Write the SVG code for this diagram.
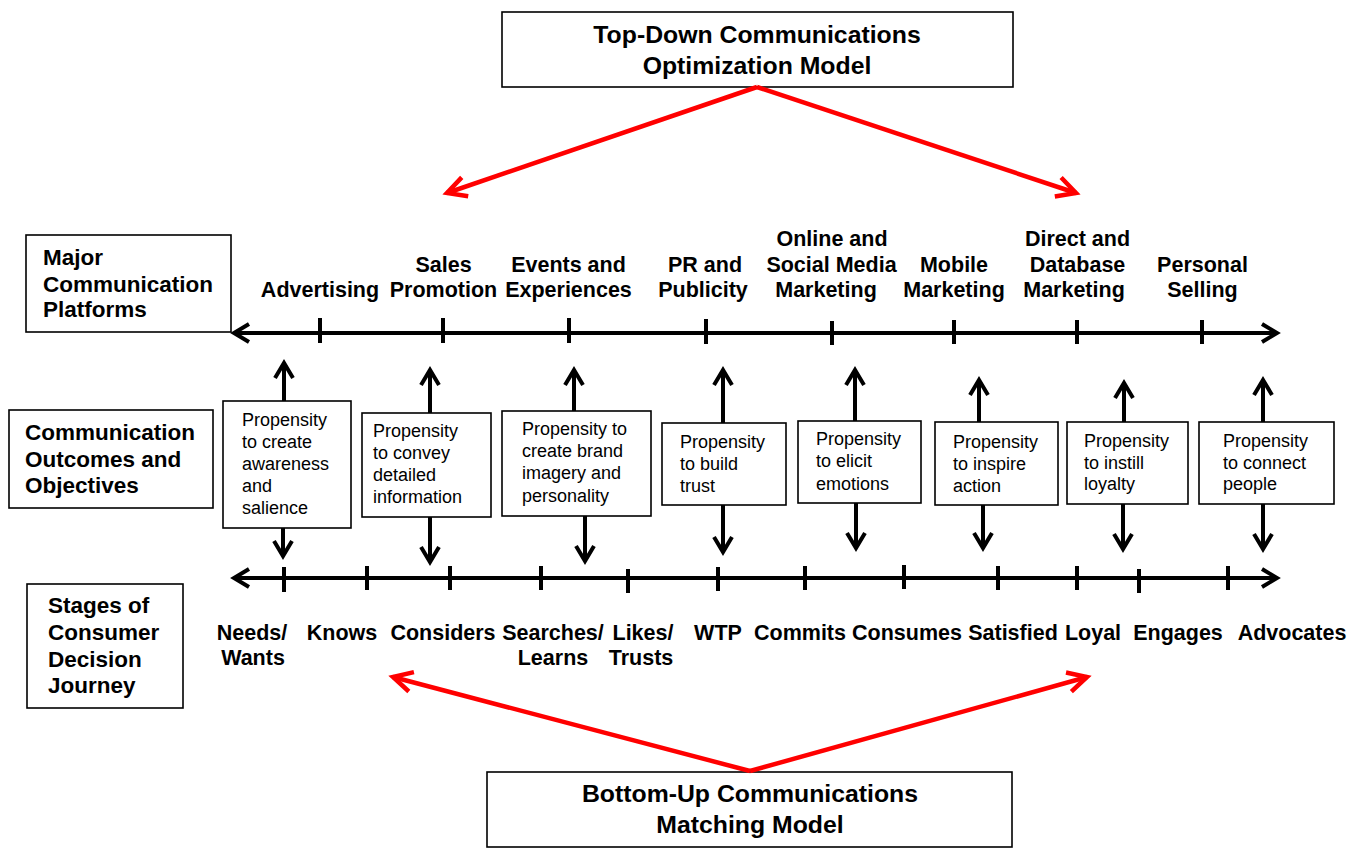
<svg xmlns="http://www.w3.org/2000/svg" width="1347" height="862" viewBox="0 0 1347 862">
<style>
.bx{fill:#fff;stroke:#000;stroke-width:1.6}
.b{font-family:"Liberation Sans",Arial,sans-serif;font-weight:bold;fill:#000}
.ax{font-size:21.5px;text-anchor:middle}
.lb{font-size:22.5px}
.tt{font-size:24.8px;text-anchor:middle}
.r{font-family:"Liberation Sans",Arial,sans-serif;font-size:18px;fill:#000}
.ln{stroke:#000;stroke-width:4;fill:none}
.tk{stroke:#000;stroke-width:4}
.rd{stroke:#ff0000;stroke-width:4.5;fill:none}
</style>
<defs>
<marker id="ah" markerUnits="userSpaceOnUse" viewBox="-20 -12 24 24" markerWidth="24" markerHeight="24" refX="0" refY="0" orient="auto-start-reverse" overflow="visible">
<path d="M-15,-9 L0,0 L-15,9" fill="none" stroke="#000" stroke-width="4"/>
</marker>
<marker id="rh" markerUnits="userSpaceOnUse" viewBox="-22 -12 26 24" markerWidth="26" markerHeight="24" refX="0" refY="0" orient="auto" overflow="visible">
<path d="M-19,-10 L0,0 L-19,10" fill="none" stroke="#ff0000" stroke-width="4.5"/>
</marker>
</defs>
<rect width="1347" height="862" fill="#fff"/>

<g id="top-model">
<rect class="bx" x="502" y="12" width="511" height="75"/>
<text class="b tt" x="757" y="43">Top-Down Communications</text>
<text class="b tt" x="757" y="74">Optimization Model</text>
</g>
<g id="bottom-model">
<rect class="bx" x="487" y="772" width="525" height="75"/>
<text class="b tt" x="750" y="802">Bottom-Up Communications</text>
<text class="b tt" x="750" y="833">Matching Model</text>
</g>

<g id="label-platforms">
<rect class="bx" x="26" y="235" width="205" height="97"/>
<text class="b lb" x="43" y="265">Major</text>
<text class="b lb" x="43" y="292">Communication</text>
<text class="b lb" x="43" y="317">Platforms</text>
</g>
<g id="label-outcomes">
<rect class="bx" x="9" y="410" width="204" height="98"/>
<text class="b lb" x="25" y="440">Communication</text>
<text class="b lb" x="25" y="467">Outcomes and</text>
<text class="b lb" x="25" y="493">Objectives</text>
</g>
<g id="label-journey">
<rect class="bx" x="27" y="584" width="156" height="124"/>
<text class="b lb" x="48" y="613">Stages of</text>
<text class="b lb" x="48" y="640">Consumer</text>
<text class="b lb" x="48" y="667">Decision</text>
<text class="b lb" x="48" y="693">Journey</text>
</g>

<g id="platforms">
<text class="b ax" x="320" y="297">Advertising</text>
<text class="b ax" x="443.5" y="272">Sales</text>
<text class="b ax" x="443.5" y="297">Promotion</text>
<text class="b ax" x="568.5" y="272">Events and</text>
<text class="b ax" x="568.5" y="297">Experiences</text>
<text class="b ax" x="705" y="272">PR and</text>
<text class="b ax" x="703" y="297">Publicity</text>
<text class="b ax" x="832" y="246">Online and</text>
<text class="b ax" x="831.5" y="272">Social Media</text>
<text class="b ax" x="826" y="297">Marketing</text>
<text class="b ax" x="954" y="272">Mobile</text>
<text class="b ax" x="954" y="297">Marketing</text>
<text class="b ax" x="1077.5" y="246">Direct and</text>
<text class="b ax" x="1077.5" y="272">Database</text>
<text class="b ax" x="1074" y="297">Marketing</text>
<text class="b ax" x="1202.5" y="272">Personal</text>
<text class="b ax" x="1202.5" y="297">Selling</text>
</g>

<g id="stages">
<text class="b ax" x="252" y="640">Needs/</text>
<text class="b ax" x="253" y="665">Wants</text>
<text class="b ax" x="342" y="640">Knows</text>
<text class="b ax" x="443" y="640">Considers</text>
<text class="b ax" x="553" y="640">Searches/</text>
<text class="b ax" x="553" y="665">Learns</text>
<text class="b ax" x="643" y="640">Likes/</text>
<text class="b ax" x="641" y="665">Trusts</text>
<text class="b ax" x="718" y="640">WTP</text>
<text class="b ax" x="800" y="640">Commits</text>
<text class="b ax" x="907" y="640">Consumes</text>
<text class="b ax" x="1013" y="640">Satisfied</text>
<text class="b ax" x="1093" y="640">Loyal</text>
<text class="b ax" x="1178" y="640">Engages</text>
<text class="b ax" x="1292" y="640">Advocates</text>
</g>

<g id="box-awareness">
<rect class="bx" x="223" y="401" width="128" height="127"/>
<text class="r" x="242" y="426">Propensity</text>
<text class="r" x="242" y="448">to create</text>
<text class="r" x="242" y="470">awareness</text>
<text class="r" x="242" y="492">and</text>
<text class="r" x="242" y="514">salience</text>
</g>
<g id="box-information">
<rect class="bx" x="362" y="413" width="129" height="104"/>
<text class="r" x="373" y="437">Propensity</text>
<text class="r" x="373" y="459">to convey</text>
<text class="r" x="373" y="481">detailed</text>
<text class="r" x="373" y="503">information</text>
</g>
<g id="box-imagery">
<rect class="bx" x="502" y="411" width="149" height="105"/>
<text class="r" x="522" y="435">Propensity to</text>
<text class="r" x="522" y="457">create brand</text>
<text class="r" x="522" y="479">imagery and</text>
<text class="r" x="522" y="502">personality</text>
</g>
<g id="box-trust">
<rect class="bx" x="662" y="423" width="124" height="82"/>
<text class="r" x="680" y="448">Propensity</text>
<text class="r" x="680" y="470">to build</text>
<text class="r" x="680" y="492">trust</text>
</g>
<g id="box-emotions">
<rect class="bx" x="798" y="421" width="123" height="82"/>
<text class="r" x="816" y="445">Propensity</text>
<text class="r" x="816" y="467">to elicit</text>
<text class="r" x="816" y="490">emotions</text>
</g>
<g id="box-action">
<rect class="bx" x="935" y="422" width="123" height="83"/>
<text class="r" x="953" y="448">Propensity</text>
<text class="r" x="953" y="470">to inspire</text>
<text class="r" x="953" y="492">action</text>
</g>
<g id="box-loyalty">
<rect class="bx" x="1067" y="422" width="121" height="82"/>
<text class="r" x="1084" y="447">Propensity</text>
<text class="r" x="1084" y="469">to instill</text>
<text class="r" x="1084" y="490">loyalty</text>
</g>
<g id="box-connect">
<rect class="bx" x="1199" y="422" width="135" height="82"/>
<text class="r" x="1223" y="447">Propensity</text>
<text class="r" x="1223" y="469">to connect</text>
<text class="r" x="1223" y="490">people</text>
</g>

<g id="connectors">
<line class="ln" x1="234" y1="333" x2="1277" y2="333" marker-start="url(#ah)" marker-end="url(#ah)"/>
<line class="tk" x1="320" y1="318" x2="320" y2="343"/>
<line class="tk" x1="443" y1="318" x2="443" y2="343"/>
<line class="tk" x1="569" y1="318" x2="569" y2="343"/>
<line class="tk" x1="706" y1="319" x2="706" y2="344"/>
<line class="tk" x1="832" y1="321" x2="832" y2="345"/>
<line class="tk" x1="954" y1="320" x2="954" y2="344"/>
<line class="tk" x1="1077" y1="320" x2="1077" y2="344"/>
<line class="tk" x1="1202" y1="320" x2="1202" y2="344"/>

<line class="ln" x1="234" y1="578" x2="1277" y2="578" marker-start="url(#ah)" marker-end="url(#ah)"/>
<line class="tk" x1="284" y1="567" x2="284" y2="592"/>
<line class="tk" x1="367" y1="566" x2="367" y2="590"/>
<line class="tk" x1="450" y1="566" x2="450" y2="590"/>
<line class="tk" x1="541" y1="566" x2="541" y2="590"/>
<line class="tk" x1="628" y1="569" x2="628" y2="593"/>
<line class="tk" x1="718" y1="567" x2="718" y2="591"/>
<line class="tk" x1="805" y1="566" x2="805" y2="590"/>
<line class="tk" x1="904" y1="565" x2="904" y2="589"/>
<line class="tk" x1="998" y1="566" x2="998" y2="590"/>
<line class="tk" x1="1077" y1="566" x2="1077" y2="590"/>
<line class="tk" x1="1139" y1="569" x2="1139" y2="593"/>
<line class="tk" x1="1228" y1="566" x2="1228" y2="590"/>

<line class="ln" x1="284" y1="401" x2="284" y2="363" marker-end="url(#ah)"/>
<line class="ln" x1="283" y1="528" x2="283" y2="556" marker-end="url(#ah)"/>
<line class="ln" x1="430" y1="413" x2="430" y2="370" marker-end="url(#ah)"/>
<line class="ln" x1="430" y1="517" x2="430" y2="562" marker-end="url(#ah)"/>
<line class="ln" x1="574" y1="411" x2="574" y2="370" marker-end="url(#ah)"/>
<line class="ln" x1="585" y1="516" x2="585" y2="561" marker-end="url(#ah)"/>
<line class="ln" x1="723" y1="423" x2="723" y2="370" marker-end="url(#ah)"/>
<line class="ln" x1="723" y1="505" x2="723" y2="552" marker-end="url(#ah)"/>
<line class="ln" x1="855" y1="421" x2="855" y2="370" marker-end="url(#ah)"/>
<line class="ln" x1="856" y1="503" x2="856" y2="548" marker-end="url(#ah)"/>
<line class="ln" x1="979" y1="422" x2="979" y2="380" marker-end="url(#ah)"/>
<line class="ln" x1="983" y1="505" x2="983" y2="548" marker-end="url(#ah)"/>
<line class="ln" x1="1124" y1="422" x2="1124" y2="383" marker-end="url(#ah)"/>
<line class="ln" x1="1123" y1="504" x2="1123" y2="549" marker-end="url(#ah)"/>
<line class="ln" x1="1263" y1="422" x2="1263" y2="380" marker-end="url(#ah)"/>
<line class="ln" x1="1263" y1="504" x2="1263" y2="549" marker-end="url(#ah)"/>

<line class="rd" x1="757" y1="87" x2="447" y2="193" marker-end="url(#rh)"/>
<line class="rd" x1="757" y1="87" x2="1076" y2="193" marker-end="url(#rh)"/>
<line class="rd" x1="750" y1="771" x2="393" y2="677" marker-end="url(#rh)"/>
<line class="rd" x1="750" y1="771" x2="1087" y2="677" marker-end="url(#rh)"/>
</g>
</svg>
